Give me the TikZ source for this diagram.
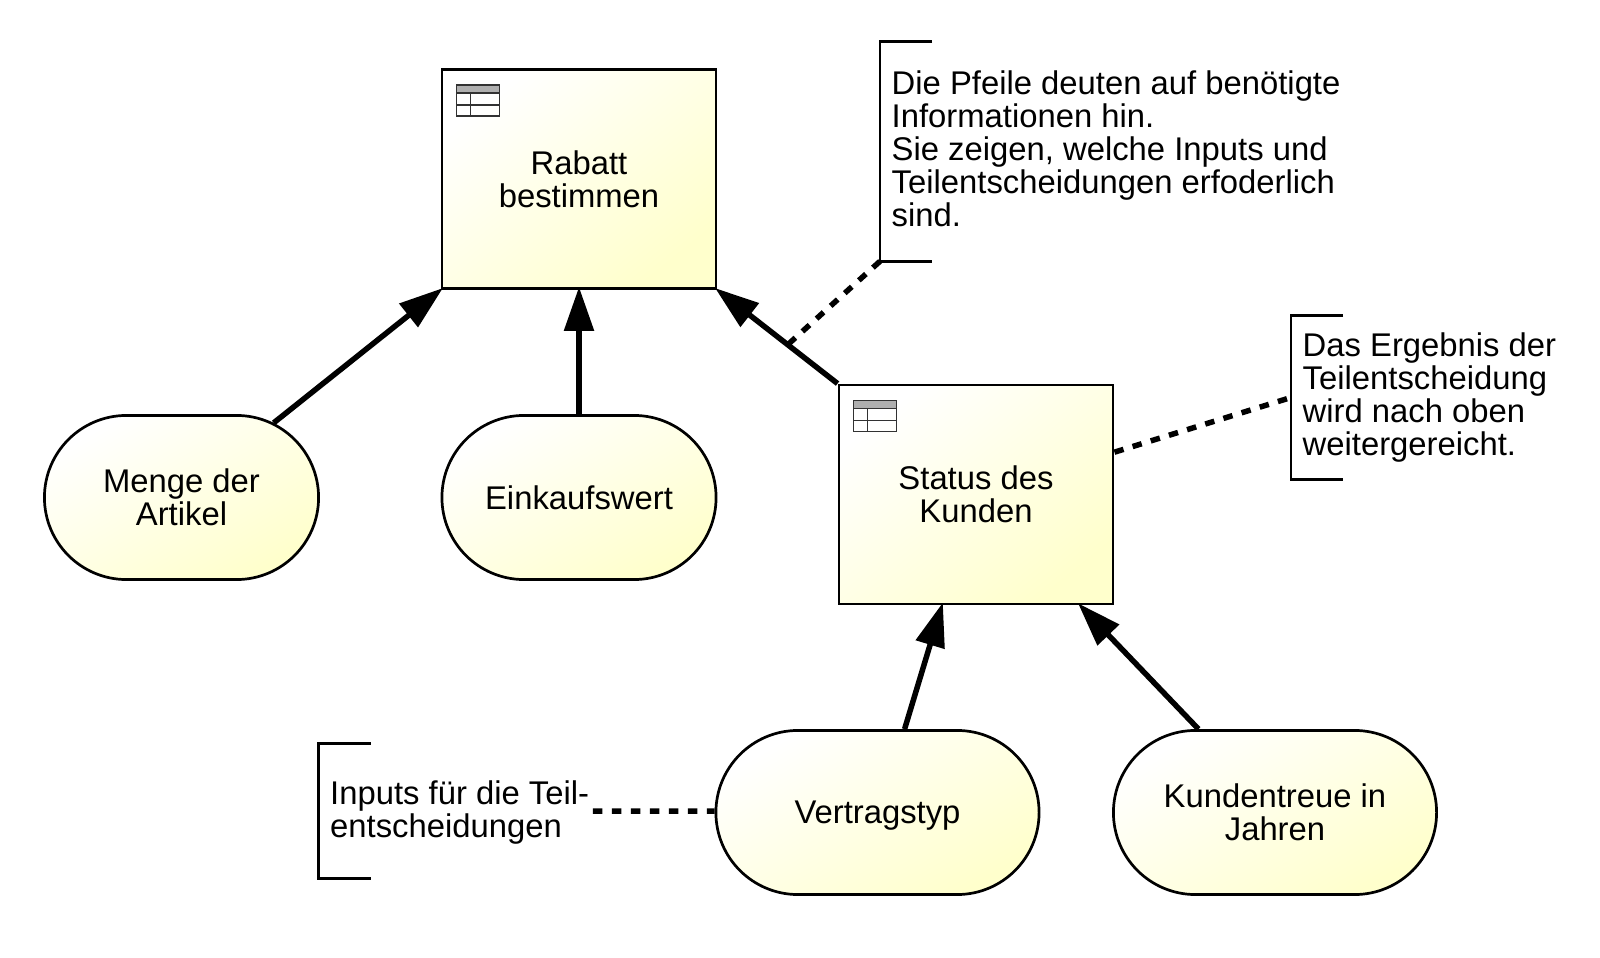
\documentclass[tikz,border=0pt]{standalone}
\usepackage{fontspec}
\setmainfont{Liberation Sans}
\usepackage{xcolor}
\usetikzlibrary{shapes.misc, arrows.meta, positioning, calc}
\definecolor{paleyellow}{RGB}{255, 255, 204}
\definecolor{icongray}{RGB}{175, 175, 175}
\definecolor{icondark}{RGB}{50, 50, 50}

\begin{document}
\begin{tikzpicture}[
    x=0.01cm, y=-0.01cm,
    box/.style={rectangle, draw=black, line width=0.027cm,
                top color=white, bottom color=paleyellow, shading angle=39,
                minimum width=2.74cm, minimum height=2.19cm, inner sep=0pt,
                align=center, font=\fontsize{9.33}{9.4}\selectfont},
    input/.style={rounded rectangle, draw=black, line width=0.027cm,
                top color=white, bottom color=paleyellow, shading angle=30,
                minimum height=1.64cm, inner sep=0pt,
                align=center, font=\fontsize{9.33}{9.4}\selectfont},
    note/.style={rectangle, anchor=west, inner sep=0pt,
                align=left, font=\fontsize{9.33}{9.4}\selectfont},
    need/.style={-{Triangle[length=0.44cm, width=0.29cm]}, line width=0.055cm,
                shorten >=-0.03cm},
    hint/.style={line width=0.055cm, dash pattern=on 0.095cm off 0.095cm},
    bracket/.style={line width=0.027cm}
]
\useasboundingbox (0,0) rectangle (1600,958);

%% Decision boxes
\node[box] (rabatt) at (579, 179) {Rabatt\\bestimmen};
\node[box] (status) at (976, 494.5) {Status des\\Kunden};

%% Inputs
\node[input, minimum width=2.74cm] (menge)   at (181.5, 497.5) {Menge der\\Artikel};
\node[input, minimum width=2.74cm] (einkauf) at (579,   497.5) {Einkaufswert};
\node[input, minimum width=3.23cm, text depth=0pt] (vertrag) at (877.5, 812.5) {Vertragstyp};
\node[input, minimum width=3.23cm] (treue)   at (1275,  812.5) {Kundentreue in\\Jahren};

%% Notes
\node[note, minimum height=2.18cm, text depth=0.06cm] (notepfeile) at (891, 151.5) {Die Pfeile deuten auf benötigte\\Informationen hin.\\Sie zeigen, welche Inputs und\\Teilentscheidungen erfoderlich\\sind.};
\node[note, minimum height=1.62cm] (noteergebnis) at (1302, 397.5) {Das Ergebnis der\\Teilentscheidung\\wird nach oben\\weitergereicht.};
\node[note, minimum height=1.34cm, text depth=0.03cm] (noteinputs) at (329.5, 811) {Inputs für die Teil-\\entscheidungen};

%% Table icons
\foreach \b in {rabatt, status} {
  \begin{scope}[shift={(\b.north west)}, draw=icondark, line width=0.018cm]
    \fill[icongray] (16,17) rectangle (59,25);
    \draw (16,17) rectangle (59,48);
    \draw (16,25) -- (59,25);
    \draw (16,37) -- (59,37);
    \draw (30,25) -- (30,48);
  \end{scope}
}

%% Brackets
\foreach \n in {notepfeile, noteergebnis, noteinputs} {
  \draw[bracket] ([xshift=0.41cm]\n.north west) -- ([xshift=-0.11cm]\n.north west)
    -- ([xshift=-0.11cm]\n.south west) -- ([xshift=0.41cm]\n.south west);
}

%% Information requirements
\draw[need] (menge.39) -- (rabatt.south west);
\draw[need] (einkauf.north) -- (rabatt.south);
\draw[need] (status.north west) -- coordinate[pos=0.415] (pfeilmitte) (rabatt.south east);
\draw[need] (vertrag.72.7) -- ([xshift=-0.34cm]status.south);
\draw[need] ([xshift=0.03cm]treue.north west) -- ([xshift=1.04cm]status.south);

%% Dotted links to the notes
\draw[hint] ([xshift=-0.11cm]notepfeile.south west) -- (pfeilmitte);
\draw[hint] (status.17.6) -- ([xshift=-0.11cm]noteergebnis.west);
\draw[hint] ([xshift=0.03cm]noteinputs.east) -- ([yshift=0.015cm]vertrag.west);

\end{tikzpicture}
\end{document}
